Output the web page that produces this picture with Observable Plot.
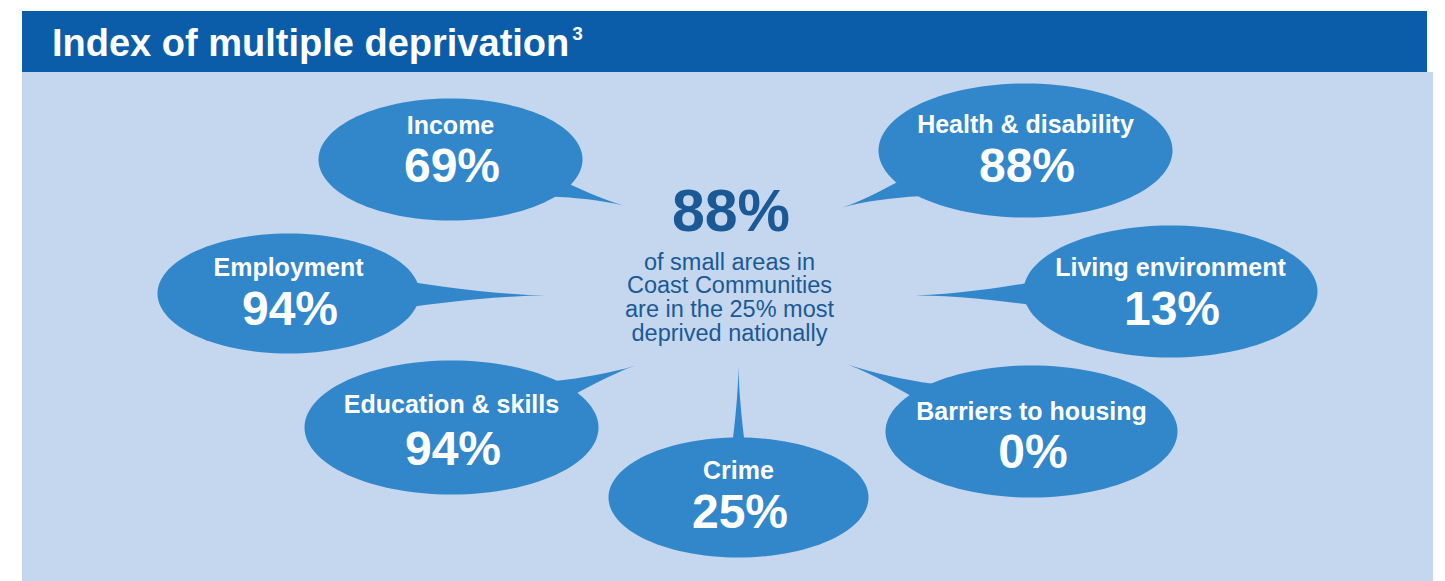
<!DOCTYPE html>
<html>
<head>
<meta charset="utf-8">
<script src="https://cdn.jsdelivr.net/npm/d3@7"></script>
<script src="https://cdn.jsdelivr.net/npm/@observablehq/plot@0.6"></script>
<style>
  html, body { margin: 0; padding: 0; background: #ffffff; }
  body { width: 1445px; height: 581px; overflow: hidden; position: relative; font-family: "Liberation Sans", Arial, sans-serif; }
  #header { position: absolute; left: 22px; top: 11px; width: 1405px; height: 61px; background: #0B5DA9; }
  #header h1 { position: absolute; left: 30px; top: 10px; margin: 0; color: #ffffff; font-size: 38px; font-weight: bold; line-height: 44px; white-space: nowrap; }
  #header sup { font-size: 19px; vertical-align: 0; position: relative; top: -16px; margin-left: 3px; }
  #chart { position: absolute; left: 22px; top: 72px; }
  g[aria-label="values"] text { letter-spacing: 3px; }
  g[aria-label="headline"] text { letter-spacing: 3px; }
</style>
</head>
<body>
<div id="header"><h1 id="title"></h1></div>
<div id="chart"></div>
<script>
// ---- data ----
const title = "Index of multiple deprivation";
const titleNote = "3";
const categories = ["Income", "Health & disability", "Employment", "Living environment", "Education & skills", "Crime", "Barriers to housing"];
const values = [69, 88, 94, 13, 94, 25, 0];
const headline = 88;
const centerLines = ["of small areas in", "Coast Communities", "are in the 25% most", "deprived nationally"];

// ---- layout (page pixel coordinates of each bubble) ----
const bubbleCx = [450, 1025, 288, 1170, 451, 738, 1031];
const bubbleCy = [159, 150, 293, 291, 427, 497, 431];
const bubbleRx = [132, 147, 131, 147, 147, 130, 146];
const bubbleRy = [61, 67, 60, 66, 67, 60, 66];
const tailX = [623, 842, 545, 915, 635, 738, 847];
const tailY = [205, 207, 295, 295, 365, 365, 364];
const tailW = [10, 12, 13, 12, 11, 7, 11];
const labelBase = [133, 132, 275, 275, 412, 478, 419];
const valueBase = [181, 181, 324, 324, 464, 527, 467];
const centerX = 729, headlineBase = 230, linesTop = 252;

const FONT = "'Liberation Sans', Arial, sans-serif";
const BUBBLE = "#3287CB";
const DARK = "#1B5996";

document.getElementById("title").innerHTML = title + "<sup>" + titleNote + "</sup>";

const bubbles = categories.map((c, i) => ({
  id: i, label: c, value: values[i],
  cx: bubbleCx[i], cy: bubbleCy[i], rx: bubbleRx[i], ry: bubbleRy[i],
  tx: tailX[i], ty: tailY[i], w: tailW[i], lab: labelBase[i], val: valueBase[i]
}));

// ellipse outlines
const ellipsePts = [];
for (const b of bubbles) {
  const n = 120;
  for (let k = 0; k < n; k++) {
    const t = (k / n) * 2 * Math.PI;
    ellipsePts.push({id: b.id, x: b.cx + b.rx * Math.cos(t), y: b.cy + b.ry * Math.sin(t)});
  }
}
// tails (slightly concave wedges)
const tailPts = [];
for (const b of bubbles) {
  const dx = b.tx - b.cx, dy = b.ty - b.cy;
  const len = Math.hypot(dx, dy);
  const ux = dx / len, uy = dy / len;
  const s = 1 / Math.sqrt((ux / b.rx) ** 2 + (uy / b.ry) ** 2);
  const px = b.cx + ux * (s - 12), py = b.cy + uy * (s - 12);
  const nx = -uy, ny = ux;
  const L = Math.hypot(b.tx - px, b.ty - py);
  const side = (sgn) => {
    const pts = [];
    for (let k = 0; k <= 8; k++) {
      const f = k / 8;
      const wf = b.w * Math.pow(1 - f, 1.6);
      pts.push({id: b.id, x: px + ux * L * f + sgn * nx * wf, y: py + uy * L * f + sgn * ny * wf});
    }
    return pts;
  };
  const a = side(1), c = side(-1).reverse();
  tailPts.push(...a, ...c.slice(1));
}

const chart = Plot.plot({
  width: 1411,
  height: 509,
  margin: 0,
  x: {domain: [22, 1433], axis: null},
  y: {domain: [72, 581], reverse: true, axis: null},
  style: {background: "#C5D7EE", overflow: "visible"},
  marks: [
    Plot.line(tailPts, {x: "x", y: "y", z: "id", fill: BUBBLE, stroke: "none", curve: "linear-closed"}),
    Plot.line(ellipsePts, {x: "x", y: "y", z: "id", fill: BUBBLE, stroke: "none", curve: "linear-closed"}),
    Plot.text(bubbles, {x: "cx", y: "lab", text: "label", fill: "white", fontSize: 25, fontWeight: "bold", fontFamily: FONT, textAnchor: "middle", lineAnchor: "bottom", ariaLabel: "labels"}),
    Plot.text(bubbles, {x: d => d.cx + 1.5, y: "val", text: d => d.value + "%", fill: "white", fontSize: 48, fontWeight: "bold", fontFamily: FONT, textAnchor: "middle", lineAnchor: "bottom", ariaLabel: "values"}),
    Plot.text([headline], {x: () => centerX + 1.5, y: () => headlineBase, text: d => d + "%", fill: DARK, fontSize: 59, fontWeight: "bold", fontFamily: FONT, textAnchor: "middle", lineAnchor: "bottom", ariaLabel: "headline"}),
    Plot.text([centerLines.join("\n")], {x: () => centerX, y: () => linesTop, text: d => d, fill: DARK, fontSize: 23.5, lineHeight: 1.02, fontFamily: FONT, textAnchor: "middle", lineAnchor: "top", ariaLabel: "note"})
  ]
});
document.getElementById("chart").appendChild(chart);
</script>
</body>
</html>
